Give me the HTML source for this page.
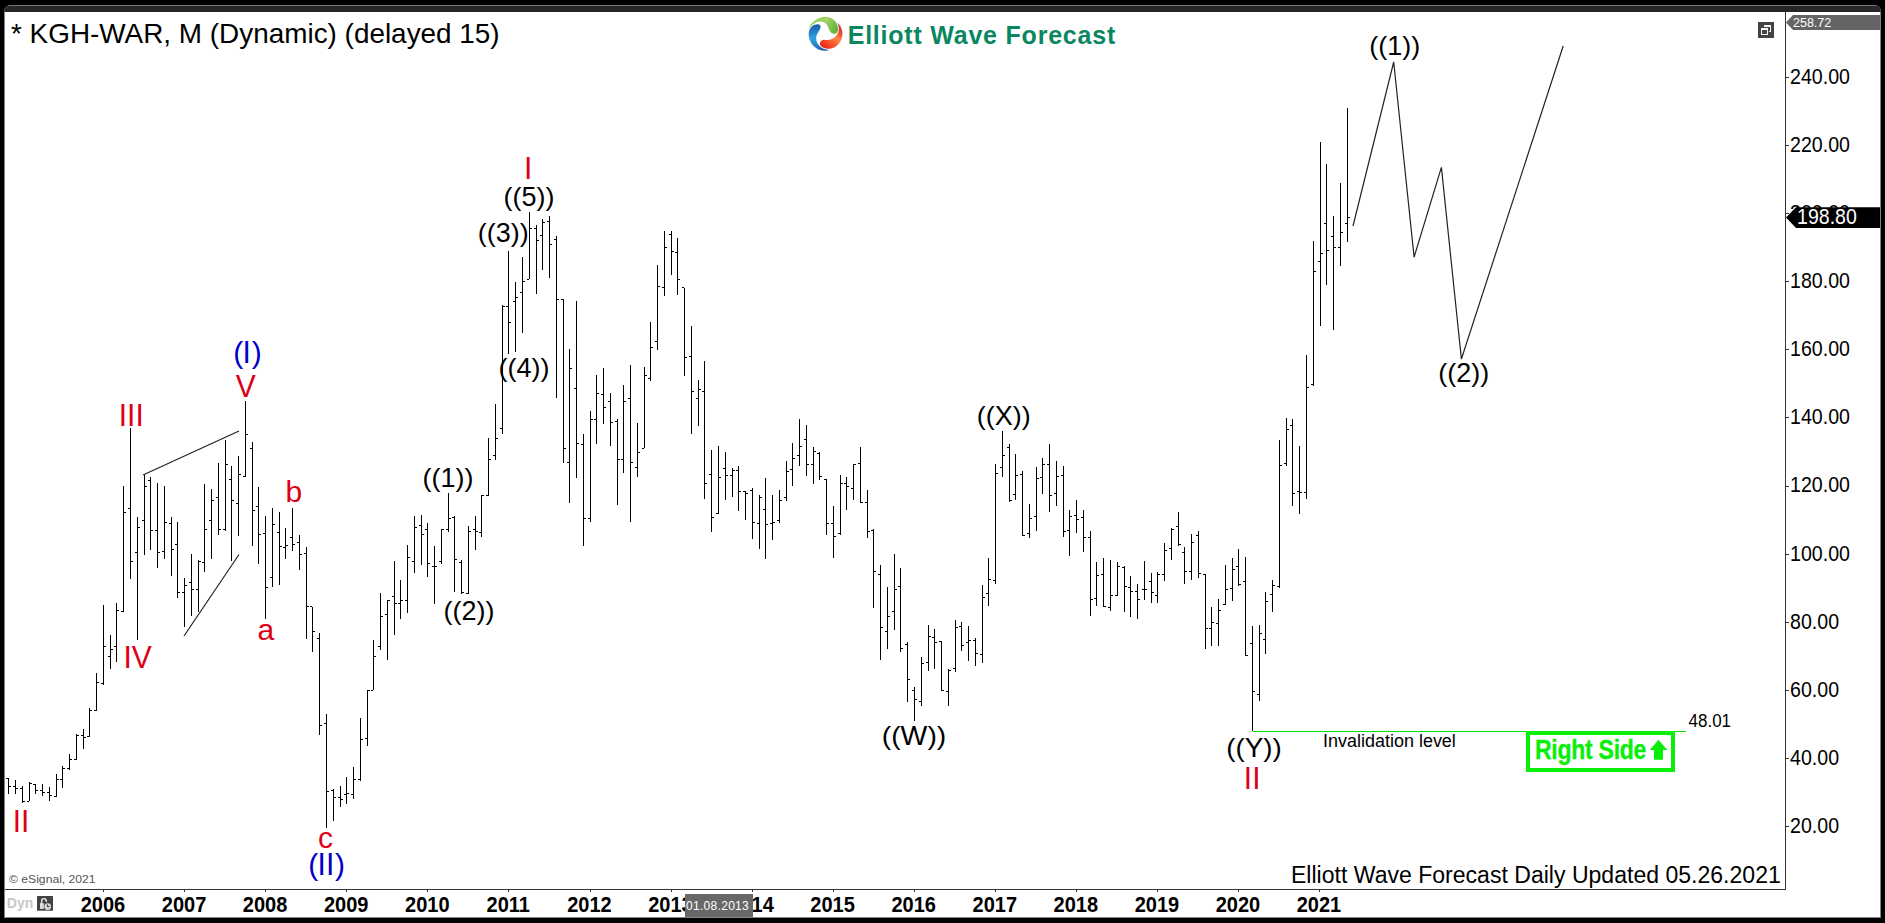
<!DOCTYPE html>
<html><head><meta charset="utf-8"><title>KGH-WAR</title>
<style>
html,body{margin:0;padding:0;background:#000;}
body{width:1885px;height:923px;position:relative;overflow:hidden;font-family:"Liberation Sans", sans-serif;}
.t{position:absolute;line-height:1;white-space:nowrap;font-family:"Liberation Sans", sans-serif;}
#frame{position:absolute;left:4px;top:5px;width:1877px;height:913px;background:#fff;border-radius:7px 7px 0 0;overflow:hidden;}
#bar{position:absolute;left:0;top:0;width:100%;height:7px;background:#262626;border-top:1px solid #777;box-sizing:border-box;}
#lb{position:absolute;left:0;top:7px;width:1877px;height:906px;box-sizing:border-box;border:1px solid #858585;border-top:none;}
svg{position:absolute;left:0;top:0;}
</style></head><body>
<div id="frame"><div id="bar"></div><div id="lb"></div></div>
<svg width="1885" height="923" viewBox="0 0 1885 923" shape-rendering="crispEdges">
<g fill="#000"><rect x="8" y="778" width="1" height="16"/><rect x="6" y="778" width="2" height="1"/><rect x="9" y="786" width="2" height="1"/><rect x="15" y="780" width="1" height="14"/><rect x="13" y="786" width="2" height="1"/><rect x="16" y="788" width="2" height="1"/><rect x="22" y="786" width="1" height="17"/><rect x="20" y="788" width="2" height="1"/><rect x="23" y="801" width="2" height="1"/><rect x="29" y="782" width="1" height="19"/><rect x="27" y="801" width="2" height="1"/><rect x="30" y="783" width="2" height="1"/><rect x="35" y="784" width="1" height="10"/><rect x="33" y="784" width="2" height="1"/><rect x="36" y="790" width="2" height="1"/><rect x="42" y="784" width="1" height="12"/><rect x="40" y="790" width="2" height="1"/><rect x="43" y="792" width="2" height="1"/><rect x="49" y="787" width="1" height="14"/><rect x="47" y="792" width="2" height="1"/><rect x="50" y="795" width="2" height="1"/><rect x="56" y="774" width="1" height="23"/><rect x="54" y="796" width="2" height="1"/><rect x="57" y="779" width="2" height="1"/><rect x="62" y="766" width="1" height="22"/><rect x="60" y="779" width="2" height="1"/><rect x="63" y="768" width="2" height="1"/><rect x="69" y="754" width="1" height="16"/><rect x="67" y="768" width="2" height="1"/><rect x="70" y="759" width="2" height="1"/><rect x="76" y="734" width="1" height="26"/><rect x="74" y="759" width="2" height="1"/><rect x="77" y="735" width="2" height="1"/><rect x="83" y="729" width="1" height="20"/><rect x="81" y="735" width="2" height="1"/><rect x="84" y="737" width="2" height="1"/><rect x="89" y="708" width="1" height="29"/><rect x="87" y="736" width="2" height="1"/><rect x="90" y="710" width="2" height="1"/><rect x="96" y="673" width="1" height="38"/><rect x="94" y="710" width="2" height="1"/><rect x="97" y="682" width="2" height="1"/><rect x="103" y="605" width="1" height="80"/><rect x="101" y="683" width="2" height="1"/><rect x="104" y="646" width="2" height="1"/><rect x="110" y="635" width="1" height="34"/><rect x="108" y="656" width="2" height="1"/><rect x="111" y="649" width="2" height="1"/><rect x="116" y="603" width="1" height="59"/><rect x="114" y="646" width="2" height="1"/><rect x="117" y="610" width="2" height="1"/><rect x="123" y="486" width="1" height="126"/><rect x="121" y="611" width="2" height="1"/><rect x="124" y="512" width="2" height="1"/><rect x="130" y="428" width="1" height="151"/><rect x="128" y="508" width="2" height="1"/><rect x="131" y="561" width="2" height="1"/><rect x="137" y="517" width="1" height="123"/><rect x="135" y="552" width="2" height="1"/><rect x="138" y="527" width="2" height="1"/><rect x="144" y="475" width="1" height="80"/><rect x="142" y="520" width="2" height="1"/><rect x="145" y="486" width="2" height="1"/><rect x="150" y="477" width="1" height="73"/><rect x="148" y="480" width="2" height="1"/><rect x="151" y="530" width="2" height="1"/><rect x="157" y="483" width="1" height="85"/><rect x="155" y="530" width="2" height="1"/><rect x="158" y="552" width="2" height="1"/><rect x="164" y="486" width="1" height="73"/><rect x="162" y="551" width="2" height="1"/><rect x="165" y="522" width="2" height="1"/><rect x="171" y="517" width="1" height="59"/><rect x="169" y="523" width="2" height="1"/><rect x="172" y="549" width="2" height="1"/><rect x="177" y="522" width="1" height="76"/><rect x="175" y="544" width="2" height="1"/><rect x="178" y="592" width="2" height="1"/><rect x="184" y="578" width="1" height="49"/><rect x="182" y="592" width="2" height="1"/><rect x="185" y="585" width="2" height="1"/><rect x="191" y="554" width="1" height="62"/><rect x="189" y="582" width="2" height="1"/><rect x="192" y="589" width="2" height="1"/><rect x="198" y="560" width="1" height="52"/><rect x="196" y="589" width="2" height="1"/><rect x="199" y="561" width="2" height="1"/><rect x="204" y="484" width="1" height="88"/><rect x="202" y="562" width="2" height="1"/><rect x="205" y="529" width="2" height="1"/><rect x="211" y="489" width="1" height="70"/><rect x="209" y="520" width="2" height="1"/><rect x="212" y="500" width="2" height="1"/><rect x="218" y="463" width="1" height="72"/><rect x="216" y="497" width="2" height="1"/><rect x="219" y="529" width="2" height="1"/><rect x="225" y="440" width="1" height="91"/><rect x="223" y="529" width="2" height="1"/><rect x="226" y="464" width="2" height="1"/><rect x="231" y="466" width="1" height="95"/><rect x="229" y="479" width="2" height="1"/><rect x="232" y="500" width="2" height="1"/><rect x="238" y="456" width="1" height="80"/><rect x="236" y="503" width="2" height="1"/><rect x="239" y="474" width="2" height="1"/><rect x="245" y="401" width="1" height="76"/><rect x="243" y="476" width="2" height="1"/><rect x="246" y="434" width="2" height="1"/><rect x="252" y="442" width="1" height="104"/><rect x="250" y="448" width="2" height="1"/><rect x="253" y="510" width="2" height="1"/><rect x="258" y="487" width="1" height="77"/><rect x="256" y="506" width="2" height="1"/><rect x="259" y="534" width="2" height="1"/><rect x="265" y="516" width="1" height="103"/><rect x="263" y="533" width="2" height="1"/><rect x="266" y="587" width="2" height="1"/><rect x="272" y="508" width="1" height="79"/><rect x="270" y="577" width="2" height="1"/><rect x="273" y="524" width="2" height="1"/><rect x="279" y="512" width="1" height="73"/><rect x="277" y="532" width="2" height="1"/><rect x="280" y="546" width="2" height="1"/><rect x="285" y="528" width="1" height="31"/><rect x="283" y="547" width="2" height="1"/><rect x="286" y="545" width="2" height="1"/><rect x="292" y="508" width="1" height="43"/><rect x="290" y="537" width="2" height="1"/><rect x="293" y="544" width="2" height="1"/><rect x="299" y="535" width="1" height="35"/><rect x="297" y="542" width="2" height="1"/><rect x="300" y="554" width="2" height="1"/><rect x="306" y="547" width="1" height="92"/><rect x="304" y="553" width="2" height="1"/><rect x="307" y="606" width="2" height="1"/><rect x="312" y="607" width="1" height="45"/><rect x="310" y="606" width="2" height="1"/><rect x="313" y="631" width="2" height="1"/><rect x="319" y="633" width="1" height="102"/><rect x="317" y="638" width="2" height="1"/><rect x="320" y="725" width="2" height="1"/><rect x="326" y="714" width="1" height="114"/><rect x="324" y="723" width="2" height="1"/><rect x="327" y="791" width="2" height="1"/><rect x="333" y="789" width="1" height="32"/><rect x="331" y="790" width="2" height="1"/><rect x="334" y="797" width="2" height="1"/><rect x="340" y="786" width="1" height="21"/><rect x="338" y="797" width="2" height="1"/><rect x="341" y="799" width="2" height="1"/><rect x="346" y="777" width="1" height="27"/><rect x="344" y="794" width="2" height="1"/><rect x="347" y="793" width="2" height="1"/><rect x="353" y="767" width="1" height="32"/><rect x="351" y="794" width="2" height="1"/><rect x="354" y="779" width="2" height="1"/><rect x="360" y="718" width="1" height="63"/><rect x="358" y="779" width="2" height="1"/><rect x="361" y="739" width="2" height="1"/><rect x="367" y="690" width="1" height="56"/><rect x="365" y="738" width="2" height="1"/><rect x="368" y="690" width="2" height="1"/><rect x="373" y="640" width="1" height="50"/><rect x="371" y="690" width="2" height="1"/><rect x="374" y="656" width="2" height="1"/><rect x="380" y="593" width="1" height="57"/><rect x="378" y="646" width="2" height="1"/><rect x="381" y="616" width="2" height="1"/><rect x="387" y="600" width="1" height="60"/><rect x="385" y="614" width="2" height="1"/><rect x="388" y="600" width="2" height="1"/><rect x="394" y="561" width="1" height="74"/><rect x="392" y="596" width="2" height="1"/><rect x="395" y="603" width="2" height="1"/><rect x="400" y="580" width="1" height="39"/><rect x="398" y="603" width="2" height="1"/><rect x="401" y="600" width="2" height="1"/><rect x="407" y="545" width="1" height="68"/><rect x="405" y="600" width="2" height="1"/><rect x="408" y="557" width="2" height="1"/><rect x="414" y="516" width="1" height="57"/><rect x="412" y="561" width="2" height="1"/><rect x="415" y="527" width="2" height="1"/><rect x="421" y="515" width="1" height="50"/><rect x="419" y="525" width="2" height="1"/><rect x="422" y="534" width="2" height="1"/><rect x="427" y="523" width="1" height="54"/><rect x="425" y="529" width="2" height="1"/><rect x="428" y="563" width="2" height="1"/><rect x="434" y="546" width="1" height="58"/><rect x="432" y="566" width="2" height="1"/><rect x="435" y="566" width="2" height="1"/><rect x="441" y="529" width="1" height="35"/><rect x="439" y="561" width="2" height="1"/><rect x="442" y="529" width="2" height="1"/><rect x="448" y="493" width="1" height="39"/><rect x="446" y="529" width="2" height="1"/><rect x="449" y="518" width="2" height="1"/><rect x="454" y="516" width="1" height="76"/><rect x="452" y="517" width="2" height="1"/><rect x="455" y="559" width="2" height="1"/><rect x="461" y="560" width="1" height="34"/><rect x="459" y="562" width="2" height="1"/><rect x="462" y="592" width="2" height="1"/><rect x="468" y="526" width="1" height="68"/><rect x="466" y="593" width="2" height="1"/><rect x="469" y="531" width="2" height="1"/><rect x="475" y="516" width="1" height="34"/><rect x="473" y="529" width="2" height="1"/><rect x="476" y="531" width="2" height="1"/><rect x="481" y="495" width="1" height="42"/><rect x="479" y="532" width="2" height="1"/><rect x="482" y="495" width="2" height="1"/><rect x="488" y="438" width="1" height="58"/><rect x="486" y="495" width="2" height="1"/><rect x="489" y="459" width="2" height="1"/><rect x="495" y="404" width="1" height="56"/><rect x="493" y="455" width="2" height="1"/><rect x="496" y="438" width="2" height="1"/><rect x="502" y="305" width="1" height="129"/><rect x="500" y="428" width="2" height="1"/><rect x="503" y="306" width="2" height="1"/><rect x="508" y="251" width="1" height="103"/><rect x="506" y="306" width="2" height="1"/><rect x="509" y="322" width="2" height="1"/><rect x="515" y="282" width="1" height="70"/><rect x="513" y="301" width="2" height="1"/><rect x="516" y="297" width="2" height="1"/><rect x="522" y="257" width="1" height="76"/><rect x="520" y="292" width="2" height="1"/><rect x="523" y="281" width="2" height="1"/><rect x="529" y="212" width="1" height="67"/><rect x="527" y="279" width="2" height="1"/><rect x="530" y="228" width="2" height="1"/><rect x="536" y="225" width="1" height="69"/><rect x="534" y="228" width="2" height="1"/><rect x="537" y="240" width="2" height="1"/><rect x="542" y="219" width="1" height="51"/><rect x="540" y="235" width="2" height="1"/><rect x="543" y="222" width="2" height="1"/><rect x="549" y="216" width="1" height="62"/><rect x="547" y="221" width="2" height="1"/><rect x="550" y="244" width="2" height="1"/><rect x="556" y="236" width="1" height="162"/><rect x="554" y="239" width="2" height="1"/><rect x="557" y="299" width="2" height="1"/><rect x="563" y="299" width="1" height="164"/><rect x="561" y="299" width="2" height="1"/><rect x="564" y="448" width="2" height="1"/><rect x="569" y="349" width="1" height="154"/><rect x="567" y="462" width="2" height="1"/><rect x="570" y="368" width="2" height="1"/><rect x="576" y="301" width="1" height="177"/><rect x="574" y="388" width="2" height="1"/><rect x="577" y="443" width="2" height="1"/><rect x="583" y="434" width="1" height="112"/><rect x="581" y="444" width="2" height="1"/><rect x="584" y="518" width="2" height="1"/><rect x="590" y="411" width="1" height="111"/><rect x="588" y="518" width="2" height="1"/><rect x="591" y="419" width="2" height="1"/><rect x="596" y="375" width="1" height="69"/><rect x="594" y="419" width="2" height="1"/><rect x="597" y="393" width="2" height="1"/><rect x="603" y="368" width="1" height="56"/><rect x="601" y="394" width="2" height="1"/><rect x="604" y="407" width="2" height="1"/><rect x="610" y="393" width="1" height="53"/><rect x="608" y="401" width="2" height="1"/><rect x="611" y="422" width="2" height="1"/><rect x="617" y="419" width="1" height="86"/><rect x="615" y="421" width="2" height="1"/><rect x="618" y="459" width="2" height="1"/><rect x="623" y="385" width="1" height="88"/><rect x="621" y="459" width="2" height="1"/><rect x="624" y="401" width="2" height="1"/><rect x="630" y="365" width="1" height="157"/><rect x="628" y="398" width="2" height="1"/><rect x="631" y="462" width="2" height="1"/><rect x="637" y="423" width="1" height="54"/><rect x="635" y="467" width="2" height="1"/><rect x="638" y="452" width="2" height="1"/><rect x="644" y="367" width="1" height="81"/><rect x="642" y="448" width="2" height="1"/><rect x="645" y="375" width="2" height="1"/><rect x="650" y="322" width="1" height="59"/><rect x="648" y="378" width="2" height="1"/><rect x="651" y="347" width="2" height="1"/><rect x="657" y="265" width="1" height="85"/><rect x="655" y="341" width="2" height="1"/><rect x="658" y="286" width="2" height="1"/><rect x="664" y="231" width="1" height="65"/><rect x="662" y="287" width="2" height="1"/><rect x="665" y="247" width="2" height="1"/><rect x="671" y="231" width="1" height="44"/><rect x="669" y="234" width="2" height="1"/><rect x="672" y="251" width="2" height="1"/><rect x="677" y="238" width="1" height="57"/><rect x="675" y="252" width="2" height="1"/><rect x="678" y="279" width="2" height="1"/><rect x="684" y="288" width="1" height="88"/><rect x="682" y="287" width="2" height="1"/><rect x="685" y="357" width="2" height="1"/><rect x="691" y="326" width="1" height="108"/><rect x="689" y="356" width="2" height="1"/><rect x="692" y="391" width="2" height="1"/><rect x="698" y="380" width="1" height="46"/><rect x="696" y="398" width="2" height="1"/><rect x="699" y="389" width="2" height="1"/><rect x="704" y="361" width="1" height="138"/><rect x="702" y="391" width="2" height="1"/><rect x="705" y="483" width="2" height="1"/><rect x="711" y="450" width="1" height="82"/><rect x="709" y="474" width="2" height="1"/><rect x="712" y="517" width="2" height="1"/><rect x="718" y="446" width="1" height="68"/><rect x="716" y="513" width="2" height="1"/><rect x="719" y="477" width="2" height="1"/><rect x="725" y="452" width="1" height="48"/><rect x="723" y="468" width="2" height="1"/><rect x="726" y="475" width="2" height="1"/><rect x="732" y="468" width="1" height="29"/><rect x="730" y="475" width="2" height="1"/><rect x="733" y="470" width="2" height="1"/><rect x="738" y="466" width="1" height="45"/><rect x="736" y="470" width="2" height="1"/><rect x="739" y="491" width="2" height="1"/><rect x="745" y="491" width="1" height="29"/><rect x="743" y="491" width="2" height="1"/><rect x="746" y="493" width="2" height="1"/><rect x="752" y="488" width="1" height="51"/><rect x="750" y="490" width="2" height="1"/><rect x="753" y="522" width="2" height="1"/><rect x="759" y="495" width="1" height="54"/><rect x="757" y="523" width="2" height="1"/><rect x="760" y="497" width="2" height="1"/><rect x="765" y="478" width="1" height="81"/><rect x="763" y="509" width="2" height="1"/><rect x="766" y="524" width="2" height="1"/><rect x="772" y="495" width="1" height="45"/><rect x="770" y="523" width="2" height="1"/><rect x="773" y="522" width="2" height="1"/><rect x="779" y="490" width="1" height="33"/><rect x="777" y="520" width="2" height="1"/><rect x="780" y="500" width="2" height="1"/><rect x="786" y="461" width="1" height="40"/><rect x="784" y="497" width="2" height="1"/><rect x="787" y="471" width="2" height="1"/><rect x="792" y="443" width="1" height="43"/><rect x="790" y="469" width="2" height="1"/><rect x="793" y="458" width="2" height="1"/><rect x="799" y="419" width="1" height="47"/><rect x="797" y="455" width="2" height="1"/><rect x="800" y="446" width="2" height="1"/><rect x="806" y="425" width="1" height="51"/><rect x="804" y="439" width="2" height="1"/><rect x="807" y="464" width="2" height="1"/><rect x="813" y="447" width="1" height="37"/><rect x="811" y="464" width="2" height="1"/><rect x="814" y="451" width="2" height="1"/><rect x="819" y="452" width="1" height="28"/><rect x="817" y="453" width="2" height="1"/><rect x="820" y="476" width="2" height="1"/><rect x="826" y="479" width="1" height="56"/><rect x="824" y="479" width="2" height="1"/><rect x="827" y="523" width="2" height="1"/><rect x="833" y="506" width="1" height="52"/><rect x="831" y="523" width="2" height="1"/><rect x="834" y="536" width="2" height="1"/><rect x="840" y="475" width="1" height="60"/><rect x="838" y="533" width="2" height="1"/><rect x="841" y="483" width="2" height="1"/><rect x="846" y="477" width="1" height="33"/><rect x="844" y="483" width="2" height="1"/><rect x="847" y="486" width="2" height="1"/><rect x="853" y="464" width="1" height="36"/><rect x="851" y="488" width="2" height="1"/><rect x="854" y="464" width="2" height="1"/><rect x="860" y="447" width="1" height="56"/><rect x="858" y="463" width="2" height="1"/><rect x="861" y="502" width="2" height="1"/><rect x="867" y="490" width="1" height="48"/><rect x="865" y="502" width="2" height="1"/><rect x="868" y="531" width="2" height="1"/><rect x="873" y="529" width="1" height="79"/><rect x="871" y="530" width="2" height="1"/><rect x="874" y="571" width="2" height="1"/><rect x="880" y="565" width="1" height="95"/><rect x="878" y="574" width="2" height="1"/><rect x="881" y="627" width="2" height="1"/><rect x="887" y="587" width="1" height="62"/><rect x="885" y="631" width="2" height="1"/><rect x="888" y="616" width="2" height="1"/><rect x="894" y="554" width="1" height="76"/><rect x="892" y="611" width="2" height="1"/><rect x="895" y="589" width="2" height="1"/><rect x="900" y="568" width="1" height="84"/><rect x="898" y="586" width="2" height="1"/><rect x="901" y="648" width="2" height="1"/><rect x="907" y="642" width="1" height="60"/><rect x="905" y="644" width="2" height="1"/><rect x="908" y="679" width="2" height="1"/><rect x="914" y="687" width="1" height="34"/><rect x="912" y="690" width="2" height="1"/><rect x="915" y="699" width="2" height="1"/><rect x="921" y="657" width="1" height="49"/><rect x="919" y="701" width="2" height="1"/><rect x="922" y="663" width="2" height="1"/><rect x="928" y="625" width="1" height="46"/><rect x="926" y="662" width="2" height="1"/><rect x="929" y="636" width="2" height="1"/><rect x="934" y="629" width="1" height="40"/><rect x="932" y="637" width="2" height="1"/><rect x="935" y="642" width="2" height="1"/><rect x="941" y="641" width="1" height="50"/><rect x="939" y="641" width="2" height="1"/><rect x="942" y="690" width="2" height="1"/><rect x="948" y="669" width="1" height="37"/><rect x="946" y="691" width="2" height="1"/><rect x="949" y="670" width="2" height="1"/><rect x="955" y="620" width="1" height="52"/><rect x="953" y="668" width="2" height="1"/><rect x="956" y="627" width="2" height="1"/><rect x="961" y="622" width="1" height="29"/><rect x="959" y="626" width="2" height="1"/><rect x="962" y="645" width="2" height="1"/><rect x="968" y="626" width="1" height="35"/><rect x="966" y="642" width="2" height="1"/><rect x="969" y="640" width="2" height="1"/><rect x="975" y="638" width="1" height="28"/><rect x="973" y="640" width="2" height="1"/><rect x="976" y="653" width="2" height="1"/><rect x="982" y="585" width="1" height="78"/><rect x="980" y="654" width="2" height="1"/><rect x="983" y="597" width="2" height="1"/><rect x="988" y="558" width="1" height="48"/><rect x="986" y="593" width="2" height="1"/><rect x="989" y="579" width="2" height="1"/><rect x="995" y="464" width="1" height="120"/><rect x="993" y="580" width="2" height="1"/><rect x="996" y="473" width="2" height="1"/><rect x="1002" y="431" width="1" height="46"/><rect x="1000" y="467" width="2" height="1"/><rect x="1003" y="455" width="2" height="1"/><rect x="1009" y="444" width="1" height="58"/><rect x="1007" y="447" width="2" height="1"/><rect x="1010" y="500" width="2" height="1"/><rect x="1015" y="454" width="1" height="46"/><rect x="1013" y="494" width="2" height="1"/><rect x="1016" y="475" width="2" height="1"/><rect x="1022" y="471" width="1" height="65"/><rect x="1020" y="474" width="2" height="1"/><rect x="1023" y="535" width="2" height="1"/><rect x="1029" y="504" width="1" height="34"/><rect x="1027" y="533" width="2" height="1"/><rect x="1030" y="518" width="2" height="1"/><rect x="1036" y="467" width="1" height="64"/><rect x="1034" y="516" width="2" height="1"/><rect x="1037" y="478" width="2" height="1"/><rect x="1042" y="458" width="1" height="36"/><rect x="1040" y="477" width="2" height="1"/><rect x="1043" y="464" width="2" height="1"/><rect x="1049" y="444" width="1" height="68"/><rect x="1047" y="464" width="2" height="1"/><rect x="1050" y="495" width="2" height="1"/><rect x="1056" y="461" width="1" height="45"/><rect x="1054" y="493" width="2" height="1"/><rect x="1057" y="476" width="2" height="1"/><rect x="1063" y="466" width="1" height="71"/><rect x="1061" y="475" width="2" height="1"/><rect x="1064" y="531" width="2" height="1"/><rect x="1069" y="510" width="1" height="46"/><rect x="1067" y="530" width="2" height="1"/><rect x="1070" y="516" width="2" height="1"/><rect x="1076" y="500" width="1" height="33"/><rect x="1074" y="515" width="2" height="1"/><rect x="1077" y="519" width="2" height="1"/><rect x="1083" y="510" width="1" height="42"/><rect x="1081" y="517" width="2" height="1"/><rect x="1084" y="537" width="2" height="1"/><rect x="1090" y="531" width="1" height="85"/><rect x="1088" y="537" width="2" height="1"/><rect x="1091" y="599" width="2" height="1"/><rect x="1096" y="562" width="1" height="44"/><rect x="1094" y="598" width="2" height="1"/><rect x="1097" y="575" width="2" height="1"/><rect x="1103" y="558" width="1" height="49"/><rect x="1101" y="574" width="2" height="1"/><rect x="1104" y="606" width="2" height="1"/><rect x="1110" y="560" width="1" height="51"/><rect x="1108" y="607" width="2" height="1"/><rect x="1111" y="595" width="2" height="1"/><rect x="1117" y="562" width="1" height="34"/><rect x="1115" y="595" width="2" height="1"/><rect x="1118" y="566" width="2" height="1"/><rect x="1124" y="566" width="1" height="46"/><rect x="1122" y="567" width="2" height="1"/><rect x="1125" y="586" width="2" height="1"/><rect x="1130" y="576" width="1" height="41"/><rect x="1128" y="587" width="2" height="1"/><rect x="1131" y="591" width="2" height="1"/><rect x="1137" y="584" width="1" height="35"/><rect x="1135" y="591" width="2" height="1"/><rect x="1138" y="599" width="2" height="1"/><rect x="1144" y="561" width="1" height="39"/><rect x="1142" y="589" width="2" height="1"/><rect x="1145" y="589" width="2" height="1"/><rect x="1151" y="573" width="1" height="30"/><rect x="1149" y="581" width="2" height="1"/><rect x="1152" y="592" width="2" height="1"/><rect x="1157" y="572" width="1" height="31"/><rect x="1155" y="595" width="2" height="1"/><rect x="1158" y="574" width="2" height="1"/><rect x="1164" y="543" width="1" height="38"/><rect x="1162" y="574" width="2" height="1"/><rect x="1165" y="550" width="2" height="1"/><rect x="1171" y="528" width="1" height="32"/><rect x="1169" y="548" width="2" height="1"/><rect x="1172" y="529" width="2" height="1"/><rect x="1178" y="512" width="1" height="34"/><rect x="1176" y="526" width="2" height="1"/><rect x="1179" y="544" width="2" height="1"/><rect x="1184" y="547" width="1" height="37"/><rect x="1182" y="552" width="2" height="1"/><rect x="1185" y="571" width="2" height="1"/><rect x="1191" y="534" width="1" height="46"/><rect x="1189" y="571" width="2" height="1"/><rect x="1192" y="542" width="2" height="1"/><rect x="1198" y="531" width="1" height="47"/><rect x="1196" y="535" width="2" height="1"/><rect x="1199" y="573" width="2" height="1"/><rect x="1205" y="574" width="1" height="75"/><rect x="1203" y="574" width="2" height="1"/><rect x="1206" y="628" width="2" height="1"/><rect x="1211" y="607" width="1" height="39"/><rect x="1209" y="628" width="2" height="1"/><rect x="1212" y="622" width="2" height="1"/><rect x="1218" y="599" width="1" height="47"/><rect x="1216" y="623" width="2" height="1"/><rect x="1219" y="610" width="2" height="1"/><rect x="1225" y="565" width="1" height="40"/><rect x="1223" y="604" width="2" height="1"/><rect x="1226" y="589" width="2" height="1"/><rect x="1232" y="558" width="1" height="43"/><rect x="1230" y="588" width="2" height="1"/><rect x="1233" y="569" width="2" height="1"/><rect x="1238" y="549" width="1" height="37"/><rect x="1236" y="566" width="2" height="1"/><rect x="1239" y="584" width="2" height="1"/><rect x="1245" y="557" width="1" height="99"/><rect x="1243" y="581" width="2" height="1"/><rect x="1246" y="655" width="2" height="1"/><rect x="1252" y="626" width="1" height="105"/><rect x="1250" y="643" width="2" height="1"/><rect x="1253" y="691" width="2" height="1"/><rect x="1259" y="625" width="1" height="76"/><rect x="1257" y="694" width="2" height="1"/><rect x="1260" y="633" width="2" height="1"/><rect x="1265" y="592" width="1" height="62"/><rect x="1263" y="639" width="2" height="1"/><rect x="1266" y="601" width="2" height="1"/><rect x="1272" y="580" width="1" height="32"/><rect x="1270" y="594" width="2" height="1"/><rect x="1273" y="585" width="2" height="1"/><rect x="1279" y="440" width="1" height="148"/><rect x="1277" y="586" width="2" height="1"/><rect x="1280" y="465" width="2" height="1"/><rect x="1286" y="418" width="1" height="48"/><rect x="1284" y="463" width="2" height="1"/><rect x="1287" y="429" width="2" height="1"/><rect x="1292" y="419" width="1" height="87"/><rect x="1290" y="425" width="2" height="1"/><rect x="1293" y="493" width="2" height="1"/><rect x="1299" y="446" width="1" height="68"/><rect x="1297" y="491" width="2" height="1"/><rect x="1300" y="492" width="2" height="1"/><rect x="1306" y="355" width="1" height="144"/><rect x="1304" y="492" width="2" height="1"/><rect x="1307" y="387" width="2" height="1"/><rect x="1313" y="241" width="1" height="145"/><rect x="1311" y="384" width="2" height="1"/><rect x="1314" y="271" width="2" height="1"/><rect x="1320" y="142" width="1" height="184"/><rect x="1318" y="261" width="2" height="1"/><rect x="1321" y="253" width="2" height="1"/><rect x="1326" y="164" width="1" height="121"/><rect x="1324" y="223" width="2" height="1"/><rect x="1327" y="250" width="2" height="1"/><rect x="1333" y="216" width="1" height="114"/><rect x="1331" y="236" width="2" height="1"/><rect x="1334" y="247" width="2" height="1"/><rect x="1340" y="183" width="1" height="83"/><rect x="1338" y="247" width="2" height="1"/><rect x="1341" y="232" width="2" height="1"/><rect x="1347" y="108" width="1" height="134"/><rect x="1345" y="223" width="2" height="1"/><rect x="1348" y="217" width="2" height="1"/></g>
<g fill="#333"><rect x="5" y="889" width="1781" height="1"/><rect x="1785" y="12" width="1" height="878"/><rect x="103" y="889" width="1" height="3"/><rect x="184" y="889" width="1" height="3"/><rect x="265" y="889" width="1" height="3"/><rect x="346" y="889" width="1" height="3"/><rect x="427" y="889" width="1" height="3"/><rect x="508" y="889" width="1" height="3"/><rect x="590" y="889" width="1" height="3"/><rect x="671" y="889" width="1" height="3"/><rect x="752" y="889" width="1" height="3"/><rect x="833" y="889" width="1" height="3"/><rect x="914" y="889" width="1" height="3"/><rect x="995" y="889" width="1" height="3"/><rect x="1076" y="889" width="1" height="3"/><rect x="1157" y="889" width="1" height="3"/><rect x="1238" y="889" width="1" height="3"/><rect x="1319" y="889" width="1" height="3"/><rect x="1786" y="77" width="3" height="1"/><rect x="1786" y="145" width="3" height="1"/><rect x="1786" y="213" width="3" height="1"/><rect x="1786" y="281" width="3" height="1"/><rect x="1786" y="349" width="3" height="1"/><rect x="1786" y="417" width="3" height="1"/><rect x="1786" y="486" width="3" height="1"/><rect x="1786" y="554" width="3" height="1"/><rect x="1786" y="622" width="3" height="1"/><rect x="1786" y="690" width="3" height="1"/><rect x="1786" y="758" width="3" height="1"/><rect x="1786" y="826" width="3" height="1"/></g>
<g stroke="#222" stroke-width="1.2" fill="none" shape-rendering="auto">
<polyline points="1353,226 1393.7,62 1414.1,257.1 1441.4,167.4 1461.4,359 1563.2,46"/>
<line x1="143" y1="475" x2="239" y2="431"/>
<line x1="184" y1="636" x2="239" y2="554.5"/>
</g>
<rect x="1253" y="730.5" width="433" height="1.2" fill="#00e000"/>
<!-- price tags -->
<g shape-rendering="auto">
<polygon points="1786,22.5 1793,15 1880,15 1880,30 1793,30" fill="#646464"/>
<polygon points="1786,217.500 1796,207.300 1880,207.300 1880,228 1796,228" fill="#000"/>
<rect x="1758" y="22" width="16" height="16" fill="#444"/>
<g fill="#f4f4f4" shape-rendering="crispEdges"><rect x="1764" y="25" width="7" height="2"/><rect x="1770" y="25" width="1" height="7"/><rect x="1769" y="31" width="2" height="1"/><rect x="1761" y="28" width="7" height="7"/></g><rect x="1762" y="30" width="5" height="4" fill="#444" shape-rendering="crispEdges"/>
<rect x="37" y="896" width="16" height="14.700" fill="#444"/>
<path d="M41.600,903.200v-2.300a2.350,2.350 0 0 1 4.700,0v1.200" fill="none" stroke="#f0f0f0" stroke-width="1.300"/>
<rect x="40" y="903.100" width="3.800" height="5.800" fill="#dcdcdc"/>
<circle cx="47.700" cy="906.600" r="3.400" fill="#d8d8d8"/>
<path d="M47.300,904.400v2.200h2.300" stroke="#333" stroke-width="1" fill="none"/>
</g>
</svg>
<div class="t" style="left:448.1px;transform-origin:50% 22.86px;transform:translateX(-50%) scale(1.0,0.96);top:464.9px;font-size:27px;color:#000;">((<span style="display:inline-block;position:relative;left:0px;transform:scaleY(1.094);transform-origin:50% 84.65%;">1</span>))</div>
<div class="t" style="left:468.9px;transform-origin:50% 22.86px;transform:translateX(-50%) scale(1.0,0.96);top:598.3px;font-size:27px;color:#000;">((<span style="display:inline-block;position:relative;left:0px;transform:scaleY(1.094);transform-origin:50% 84.65%;">2</span>))</div>
<div class="t" style="left:503.2px;transform-origin:50% 22.86px;transform:translateX(-50%) scale(1.0,0.96);top:219.7px;font-size:27px;color:#000;">((<span style="display:inline-block;position:relative;left:0px;transform:scaleY(1.094);transform-origin:50% 84.65%;">3</span>))</div>
<div class="t" style="left:524.1px;transform-origin:50% 22.86px;transform:translateX(-50%) scale(1.0,0.96);top:354.9px;font-size:27px;color:#000;">((<span style="display:inline-block;position:relative;left:0px;transform:scaleY(1.094);transform-origin:50% 84.65%;">4</span>))</div>
<div class="t" style="left:529.1px;transform-origin:50% 22.86px;transform:translateX(-50%) scale(1.0,0.96);top:183.6px;font-size:27px;color:#000;">((<span style="display:inline-block;position:relative;left:0px;transform:scaleY(1.094);transform-origin:50% 84.65%;">5</span>))</div>
<div class="t" style="left:1003.7px;transform-origin:50% 22.86px;transform:translateX(-50%) scale(1.0,0.96);top:402.9px;font-size:27px;color:#000;">((<span style="display:inline-block;position:relative;left:0px;transform:scaleY(1.094);transform-origin:50% 84.65%;">X</span>))</div>
<div class="t" style="left:914.1px;transform-origin:50% 22.86px;transform:translateX(-50%) scale(1.05,0.96);top:722.8px;font-size:27px;color:#000;">((<span style="display:inline-block;position:relative;left:0px;transform:scaleY(1.094);transform-origin:50% 84.65%;">W</span>))</div>
<div class="t" style="left:1254.0px;transform-origin:50% 22.86px;transform:translateX(-50%) scale(1.03,0.96);top:735.1px;font-size:27px;color:#000;">((<span style="display:inline-block;position:relative;left:0px;transform:scaleY(1.094);transform-origin:50% 84.65%;">Y</span>))</div>
<div class="t" style="left:1394.8px;transform-origin:50% 22.86px;transform:translateX(-50%) scale(1.0,0.96);top:33.0px;font-size:27px;color:#000;">((<span style="display:inline-block;position:relative;left:0px;transform:scaleY(1.094);transform-origin:50% 84.65%;">1</span>))</div>
<div class="t" style="left:1463.8px;transform-origin:50% 22.86px;transform:translateX(-50%) scale(1.0,0.96);top:360.3px;font-size:27px;color:#000;">((<span style="display:inline-block;position:relative;left:0px;transform:scaleY(1.094);transform-origin:50% 84.65%;">2</span>))</div>
<div class="t" style="left:21.1px;transform-origin:50% 25.39px;transform:translateX(-50%) scale(1.0,1.04);top:807.0px;font-size:30px;color:#dd0016;">II</div>
<div class="t" style="left:131.3px;transform-origin:50% 25.39px;transform:translateX(-50%) scale(1.0,1.04);top:400.5px;font-size:30px;color:#dd0016;">III</div>
<div class="t" style="left:137.6px;transform-origin:50% 25.39px;transform:translateX(-50%) scale(1.0,1.04);top:643.1px;font-size:30px;color:#dd0016;">IV</div>
<div class="t" style="left:245.7px;transform-origin:50% 25.39px;transform:translateX(-50%) scale(1.0,1.04);top:371.6px;font-size:30px;color:#dd0016;">V</div>
<div class="t" style="left:265.8px;transform-origin:50% 25.39px;transform:translateX(-50%) scale(1.0,0.98);top:615.4px;font-size:30px;color:#dd0016;">a</div>
<div class="t" style="left:293.9px;transform-origin:50% 25.39px;transform:translateX(-50%) scale(1.0,1.0);top:476.8px;font-size:30px;color:#dd0016;">b</div>
<div class="t" style="left:325.5px;transform-origin:50% 25.39px;transform:translateX(-50%) scale(1.0,0.98);top:823.0px;font-size:30px;color:#dd0016;">c</div>
<div class="t" style="left:528.2px;transform-origin:50% 25.39px;transform:translateX(-50%) scale(1.0,1.04);top:154.0px;font-size:30px;color:#dd0016;">I</div>
<div class="t" style="left:1252.2px;transform-origin:50% 25.39px;transform:translateX(-50%) scale(1.0,1.04);top:764.2px;font-size:30px;color:#dd0016;">II</div>
<div class="t" style="left:247.5px;transform-origin:50% 25.39px;transform:translateX(-50%) scale(1.0,1.0);top:338.4px;font-size:30px;color:#0000c8;">(<span style="display:inline-block;position:relative;left:-0.8px;transform:scaleY(1.07);transform-origin:50% 84.65%;">I</span>)</div>
<div class="t" style="left:326.7px;transform-origin:50% 25.39px;transform:translateX(-50%) scale(1.0,1.0);top:850.1px;font-size:30px;color:#0000c8;">(<span style="display:inline-block;position:relative;left:-0.8px;transform:scaleY(1.07);transform-origin:50% 84.65%;">II</span>)</div>
<div class="t" style="left:11.2px;transform-origin:0 23.70px;transform:scale(0.996,1.0);top:20.0px;font-size:28px;color:#000;">* KGH-WAR, M (Dynamic) (delayed 15)</div>
<div class="t" style="left:1790.3px;transform-origin:0 16.51px;transform:scale(1.005,1.1);top:67.5px;font-size:19.5px;color:#000;">240.00</div>
<div class="t" style="left:1790.3px;transform-origin:0 16.51px;transform:scale(1.005,1.1);top:135.6px;font-size:19.5px;color:#000;">220.00</div>
<div class="t" style="left:1790.3px;transform-origin:0 16.51px;transform:scale(1.005,1.1);top:203.8px;font-size:19.5px;color:#000;">200.00</div>
<div class="t" style="left:1790.3px;transform-origin:0 16.51px;transform:scale(1.005,1.1);top:271.9px;font-size:19.5px;color:#000;">180.00</div>
<div class="t" style="left:1790.3px;transform-origin:0 16.51px;transform:scale(1.005,1.1);top:340.1px;font-size:19.5px;color:#000;">160.00</div>
<div class="t" style="left:1790.3px;transform-origin:0 16.51px;transform:scale(1.005,1.1);top:408.2px;font-size:19.5px;color:#000;">140.00</div>
<div class="t" style="left:1790.3px;transform-origin:0 16.51px;transform:scale(1.005,1.1);top:476.4px;font-size:19.5px;color:#000;">120.00</div>
<div class="t" style="left:1790.3px;transform-origin:0 16.51px;transform:scale(1.005,1.1);top:544.5px;font-size:19.5px;color:#000;">100.00</div>
<div class="t" style="left:1790.3px;transform-origin:0 16.51px;transform:scale(1.005,1.1);top:612.7px;font-size:19.5px;color:#000;">80.00</div>
<div class="t" style="left:1790.3px;transform-origin:0 16.51px;transform:scale(1.005,1.1);top:680.8px;font-size:19.5px;color:#000;">60.00</div>
<div class="t" style="left:1790.3px;transform-origin:0 16.51px;transform:scale(1.005,1.1);top:749.0px;font-size:19.5px;color:#000;">40.00</div>
<div class="t" style="left:1790.3px;transform-origin:0 16.51px;transform:scale(1.005,1.1);top:817.1px;font-size:19.5px;color:#000;">20.00</div>
<div class="t" style="left:103.0px;transform-origin:50% 16.93px;transform:translateX(-50%) scale(1.0,1.08);top:895.1px;font-size:20px;color:#000;font-weight:bold;">2006</div>
<div class="t" style="left:184.1px;transform-origin:50% 16.93px;transform:translateX(-50%) scale(1.0,1.08);top:895.1px;font-size:20px;color:#000;font-weight:bold;">2007</div>
<div class="t" style="left:265.1px;transform-origin:50% 16.93px;transform:translateX(-50%) scale(1.0,1.08);top:895.1px;font-size:20px;color:#000;font-weight:bold;">2008</div>
<div class="t" style="left:346.2px;transform-origin:50% 16.93px;transform:translateX(-50%) scale(1.0,1.08);top:895.1px;font-size:20px;color:#000;font-weight:bold;">2009</div>
<div class="t" style="left:427.3px;transform-origin:50% 16.93px;transform:translateX(-50%) scale(1.0,1.08);top:895.1px;font-size:20px;color:#000;font-weight:bold;">2010</div>
<div class="t" style="left:508.3px;transform-origin:50% 16.93px;transform:translateX(-50%) scale(1.0,1.08);top:895.1px;font-size:20px;color:#000;font-weight:bold;">2011</div>
<div class="t" style="left:589.4px;transform-origin:50% 16.93px;transform:translateX(-50%) scale(1.0,1.08);top:895.1px;font-size:20px;color:#000;font-weight:bold;">2012</div>
<div class="t" style="left:670.5px;transform-origin:50% 16.93px;transform:translateX(-50%) scale(1.0,1.08);top:895.1px;font-size:20px;color:#000;font-weight:bold;">2013</div>
<div class="t" style="left:751.6px;transform-origin:50% 16.93px;transform:translateX(-50%) scale(1.0,1.08);top:895.1px;font-size:20px;color:#000;font-weight:bold;">2014</div>
<div class="t" style="left:832.6px;transform-origin:50% 16.93px;transform:translateX(-50%) scale(1.0,1.08);top:895.1px;font-size:20px;color:#000;font-weight:bold;">2015</div>
<div class="t" style="left:913.7px;transform-origin:50% 16.93px;transform:translateX(-50%) scale(1.0,1.08);top:895.1px;font-size:20px;color:#000;font-weight:bold;">2016</div>
<div class="t" style="left:994.8px;transform-origin:50% 16.93px;transform:translateX(-50%) scale(1.0,1.08);top:895.1px;font-size:20px;color:#000;font-weight:bold;">2017</div>
<div class="t" style="left:1075.8px;transform-origin:50% 16.93px;transform:translateX(-50%) scale(1.0,1.08);top:895.1px;font-size:20px;color:#000;font-weight:bold;">2018</div>
<div class="t" style="left:1156.9px;transform-origin:50% 16.93px;transform:translateX(-50%) scale(1.0,1.08);top:895.1px;font-size:20px;color:#000;font-weight:bold;">2019</div>
<div class="t" style="left:1238.0px;transform-origin:50% 16.93px;transform:translateX(-50%) scale(1.0,1.08);top:895.1px;font-size:20px;color:#000;font-weight:bold;">2020</div>
<div class="t" style="left:1319.0px;transform-origin:50% 16.93px;transform:translateX(-50%) scale(1.0,1.08);top:895.1px;font-size:20px;color:#000;font-weight:bold;">2021</div>
<div class="t" style="left:1322.5px;transform-origin:0 14.39px;transform:scale(1.057,1.04);top:732.6px;font-size:17px;color:#000;">Invalidation level</div>
<div class="t" style="left:1688.5px;transform-origin:0 14.39px;transform:scale(1.0,1.04);top:713.3px;font-size:17px;color:#000;">48.01</div>
<div class="t" style="left:1290.7px;transform-origin:0 19.47px;transform:scale(1.002,1.04);top:863.5px;font-size:23px;color:#000;">Elliott Wave Forecast Daily Updated 05.26.2021</div>
<div class="t" style="left:8.7px;transform-origin:0 9.57px;transform:scale(1.075,1.0);top:873.7px;font-size:11.3px;color:#555;">&copy; eSignal, 2021</div>
<div class="t" style="left:6.8px;transform-origin:0 11.85px;transform:scale(1.0,1.0);top:895.6px;font-size:14px;color:#c8c8c8;font-weight:bold;">Dyn</div>
<div class="t" style="left:1793px;top:16.800px;font-size:12.500px;color:#fff;">258.72</div>
<div class="t" style="left:1797.1px;top:207.700px;font-size:19.5px;color:#fff;transform-origin:0 16.5px;transform:scale(1.0,1.10);">198.80</div>
<div style="position:absolute;left:685px;top:894.3px;width:68px;height:22.8px;background:#686868;"></div>
<div class="t" style="left:686px;top:899.600px;font-size:12px;color:#fff;letter-spacing:0.3px;">01.08.2013</div>
<!-- Right side box -->
<div style="position:absolute;left:1526px;top:730.5px;width:149px;height:41px;box-sizing:border-box;border:4px solid #0aef0a;"></div>
<div class="t" style="left:1535px;top:736.4px;font-size:26px;font-weight:bold;color:#0aef0a;transform-origin:0 0;transform:scale(0.885,1.06);letter-spacing:-0.3px;-webkit-text-stroke:0.35px #0aef0a;">Right Side</div>
<svg width="1885" height="923" viewBox="0 0 1885 923"><polygon points="1658.500,739.800 1667.300,750 1663,750 1663,759.800 1654,759.800 1654,750 1649.800,750" fill="#0aef0a"/></svg>
<!-- Logo -->
<svg width="1885" height="923" viewBox="0 0 1885 923">
<defs>
<linearGradient id="gg" gradientUnits="userSpaceOnUse" x1="-14" y1="-12" x2="10" y2="-2"><stop offset="0" stop-color="#8cc850"/><stop offset="0.500" stop-color="#a6d468"/><stop offset="1" stop-color="#62b43a"/></linearGradient>
<linearGradient id="gb" gradientUnits="userSpaceOnUse" x1="-8" y1="-10" x2="-4" y2="17"><stop offset="0" stop-color="#1c58a4"/><stop offset="0.500" stop-color="#30a4e0"/><stop offset="1" stop-color="#2264a8"/></linearGradient>
<linearGradient id="gr" gradientUnits="userSpaceOnUse" x1="14" y1="-10" x2="-4" y2="12"><stop offset="0" stop-color="#cc1c24"/><stop offset="0.450" stop-color="#ff8444"/><stop offset="1" stop-color="#ee2414"/></linearGradient>
</defs>
<g transform="translate(825.4,33.8)">
<path d="M-17,-4.900 C-14,-12 -7,-17 0,-17 C7,-17 12.500,-12 12.600,-5 C12.700,-1 10.500,0.300 8.600,0 C5.500,-0.300 4,-2.500 3.300,-5 C2.500,-8 1,-10.500 -3,-12 C-8,-13.500 -13,-9.500 -17,-4.900Z" fill="url(#gg)"/>
<path d="M-8.100,-9.600 C-5.500,-9.800 -4.300,-8 -4.900,-6 C-5.500,-3.500 -7.500,-1.500 -8.500,1 C-10,4.500 -9,8.500 -6.500,11.500 C-4,14.500 0,16 3.800,16.200 C-1,18 -7,17 -11.500,12.500 C-16,8 -17.500,2 -16.300,-3 C-15,-7 -11.500,-9.500 -8.100,-9.600Z" fill="url(#gb)"/>
<path d="M11.900,-11.600 C15.500,-8 17.500,-3 17,1 C16.500,6 14,10.500 10,13 C6,15.500 1,15.500 -2,14 C-4.500,12.800 -6,11 -5.400,9 C-4.800,7 -3,5.800 -1,6 C3,6.500 7,6 10,3 C13,0 13.800,-4 13.300,-7 C13,-9 12.500,-10.500 11.900,-11.600Z" fill="url(#gr)"/>
</g>
</svg>
<div class="t" style="left:847.700px;top:22.800px;font-size:25px;font-weight:bold;color:#0a8762;letter-spacing:0.78px;">Elliott Wave Forecast</div>
</body></html>
